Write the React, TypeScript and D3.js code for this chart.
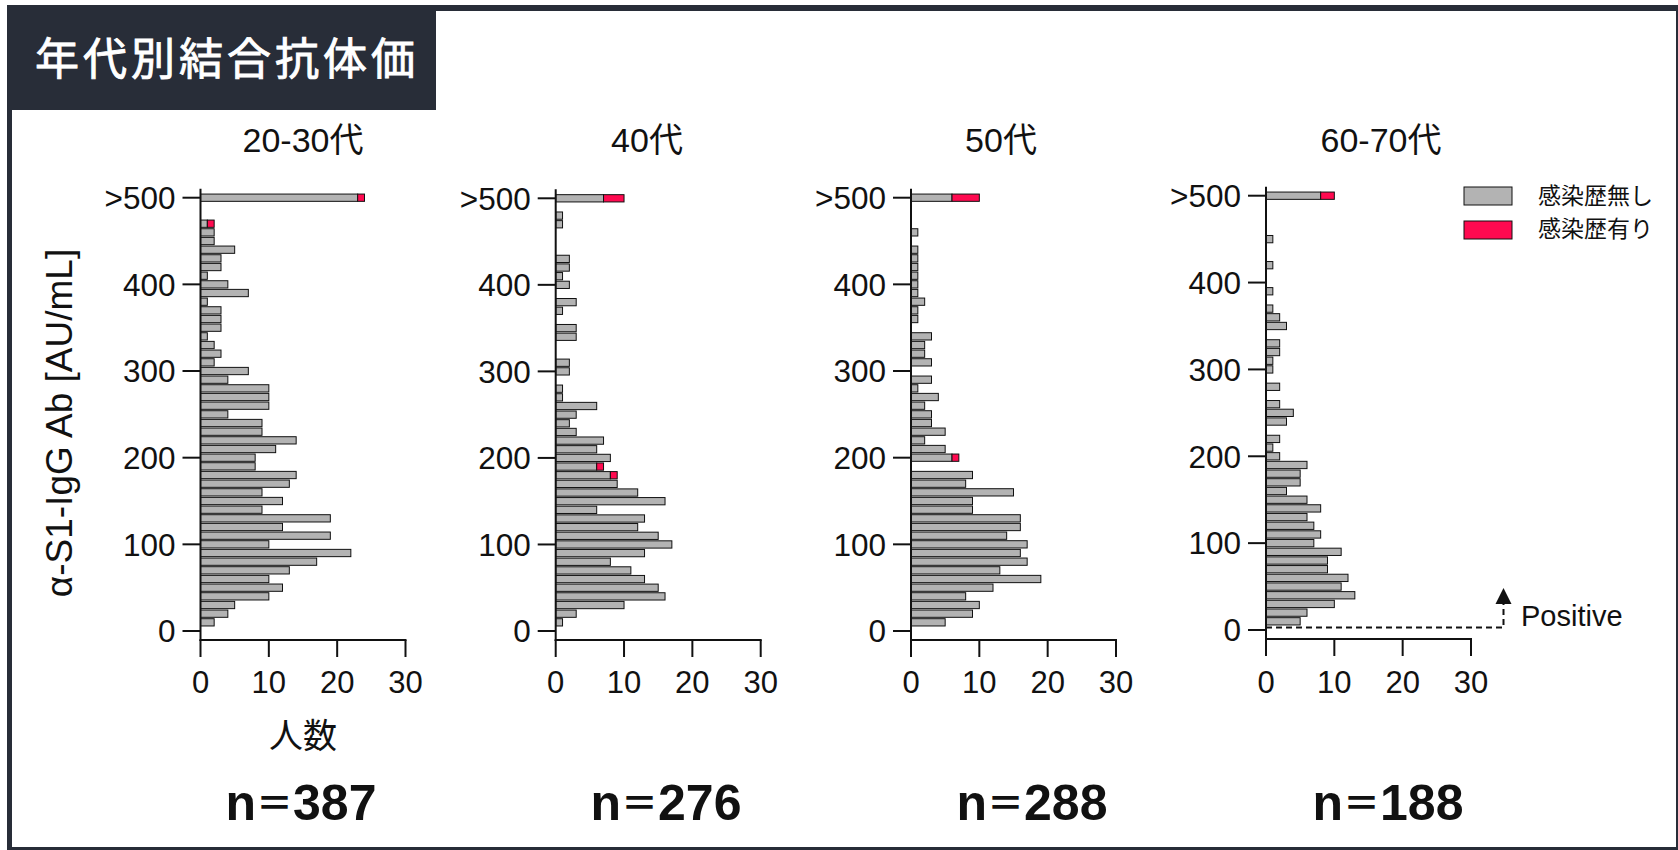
import React from "react";
import * as d3 from "d3";

// ---- data (bins centred at 10, 20, ..., 490 AU/mL; then ">500") ----
const binValues = d3.range(10, 500, 10);
const groupNames = ["20-30代", "40代", "50代", "60-70代"];
const groupCounts = ["387", "276", "288", "188"];

const gray2030 = [2, 4, 5, 10, 12, 10, 13, 17, 22, 10, 19, 12, 19, 9, 12, 9, 13, 14, 8, 8, 11, 14, 9, 9, 4, 10, 10, 10, 4, 7, 2, 3, 2, 1, 3, 3, 3, 1, 7, 4, 1, 3, 3, 5, 2, 2, 1, 0, 0];
const red2030 = [0, 0, 0, 0, 0, 0, 0, 0, 0, 0, 0, 0, 0, 0, 0, 0, 0, 0, 0, 0, 0, 0, 0, 0, 0, 0, 0, 0, 0, 0, 0, 0, 0, 0, 0, 0, 0, 0, 0, 0, 0, 0, 0, 0, 0, 0, 1, 0, 0];
const gray40 = [1, 3, 10, 16, 15, 13, 11, 8, 13, 17, 15, 12, 13, 6, 16, 12, 9, 8, 6, 8, 6, 7, 3, 2, 3, 6, 1, 1, 0, 2, 2, 0, 0, 3, 3, 0, 1, 3, 0, 2, 1, 2, 2, 0, 0, 0, 1, 1, 0];
const red40 = [0, 0, 0, 0, 0, 0, 0, 0, 0, 0, 0, 0, 0, 0, 0, 0, 0, 1, 1, 0, 0, 0, 0, 0, 0, 0, 0, 0, 0, 0, 0, 0, 0, 0, 0, 0, 0, 0, 0, 0, 0, 0, 0, 0, 0, 0, 0, 0, 0];
const gray50 = [5, 9, 10, 8, 12, 19, 13, 17, 16, 17, 14, 16, 16, 9, 9, 15, 8, 9, 0, 6, 5, 2, 5, 3, 3, 2, 4, 1, 3, 0, 3, 2, 2, 3, 0, 1, 1, 2, 1, 1, 1, 1, 1, 1, 0, 1, 0, 0, 0];
const red50 = [0, 0, 0, 0, 0, 0, 0, 0, 0, 0, 0, 0, 0, 0, 0, 0, 0, 0, 0, 1, 0, 0, 0, 0, 0, 0, 0, 0, 0, 0, 0, 0, 0, 0, 0, 0, 0, 0, 0, 0, 0, 0, 0, 0, 0, 0, 0, 0, 0];
const gray6070 = [5, 6, 10, 13, 11, 12, 9, 9, 11, 7, 8, 7, 6, 8, 6, 3, 5, 5, 6, 2, 1, 2, 0, 3, 4, 2, 0, 2, 0, 1, 1, 2, 2, 0, 3, 2, 1, 0, 1, 0, 0, 1, 0, 0, 1, 0, 0, 0, 0];
const red6070 = [0, 0, 0, 0, 0, 0, 0, 0, 0, 0, 0, 0, 0, 0, 0, 0, 0, 0, 0, 0, 0, 0, 0, 0, 0, 0, 0, 0, 0, 0, 0, 0, 0, 0, 0, 0, 0, 0, 0, 0, 0, 0, 0, 0, 0, 0, 0, 0, 0];
const overGray = [23, 7, 6, 8];
const overRed = [1, 3, 4, 2];

const yTickValues = [0, 100, 200, 300, 400, 500];
const yTickLabels = ["0", "100", "200", "300", "400", ">500"];
const xTickValues = [0, 10, 20, 30];
const legendLabels = ["感染歴無し", "感染歴有り"];

const grays = [gray2030, gray40, gray50, gray6070];
const reds = [red2030, red40, red50, red6070];

// ---- layout ----
const W = 1678;
const H = 850;
const FONT = "'Liberation Sans', Arial, 'Noto Sans CJK JP', sans-serif";
const GRAY = "#b3b3b3";
const RED = "#ff0a50";
const INK = "#111";
const panelAxisX = [200.5, 555.7, 911, 1266];
const panelY0 = [631, 631, 631, 630];
const panelY500 = [197.7, 198.3, 197.7, 195.7];
const panelTitleX = [303, 647, 1001, 1381];
const panelNX = [301, 666, 1032, 1388];
const PANEL_W = 205;

function Panel({ i }: { i: number }) {
  const ax = panelAxisX[i];
  const x = d3.scaleLinear().domain([0, 30]).range([ax, ax + PANEL_W]);
  const y = d3.scaleLinear().domain([0, 500]).range([panelY0[i], panelY500[i]]);
  const pitch = Math.abs(y(10) - y(0));
  const bh = pitch * 0.84;
  const axisBottom = y(0) + 9;
  const axisTop = y(500) - 9;
  const g = grays[i];
  const r = reds[i];
  return (
    <g>
      {binValues.map((v, k) =>
        g[k] + r[k] > 0 ? (
          <g key={v}>
            {g[k] > 0 && (
              <rect x={x(0)} y={y(v) - bh / 2} width={x(g[k]) - x(0)} height={bh} fill={GRAY} stroke={INK} strokeWidth={1} />
            )}
            {r[k] > 0 && (
              <rect x={x(g[k])} y={y(v) - bh / 2} width={x(g[k] + r[k]) - x(g[k])} height={bh} fill={RED} stroke={INK} strokeWidth={1} />
            )}
          </g>
        ) : null
      )}
      <rect x={x(0)} y={y(500) - bh / 2} width={x(overGray[i]) - x(0)} height={bh} fill={GRAY} stroke={INK} strokeWidth={1} />
      <rect x={x(overGray[i])} y={y(500) - bh / 2} width={x(overGray[i] + overRed[i]) - x(overGray[i])} height={bh} fill={RED} stroke={INK} strokeWidth={1} />
      {/* axes */}
      <line x1={x(0)} x2={x(0)} y1={axisTop} y2={axisBottom + 1} stroke={INK} strokeWidth={2} />
      <line x1={x(0) - 1} x2={x(30) + 1} y1={axisBottom} y2={axisBottom} stroke={INK} strokeWidth={2} />
      {yTickValues.map((v, k) => (
        <g key={v}>
          <line x1={x(0) - 18} x2={x(0)} y1={y(v)} y2={y(v)} stroke={INK} strokeWidth={2} />
          <text x={x(0) - 25} y={y(v)} dy="0.36em" textAnchor="end" fontSize={31.5} fontFamily={FONT} fill={INK}>
            {yTickLabels[k]}
          </text>
        </g>
      ))}
      {xTickValues.map((v) => (
        <g key={v}>
          <line x1={x(v)} x2={x(v)} y1={axisBottom} y2={axisBottom + 17} stroke={INK} strokeWidth={2} />
          <text x={x(v)} y={693} textAnchor="middle" fontSize={31} fontFamily={FONT} fill={INK}>
            {v}
          </text>
        </g>
      ))}
      <text x={panelTitleX[i]} y={152} textAnchor="middle" fontSize={34} fontFamily={FONT} fill={INK}>
        {groupNames[i]}
      </text>
      <text x={panelNX[i]} y={820} textAnchor="middle" fontSize={50} fontWeight="bold" fontFamily={FONT} fill={INK}>
        n<tspan fontSize={37} dy={-3.5}>＝</tspan>
        <tspan dy={3.5}>{groupCounts[i]}</tspan>
      </text>
    </g>
  );
}

export default function App() {
  const ax4 = panelAxisX[3];
  const x4 = d3.scaleLinear().domain([0, 30]).range([ax4, ax4 + PANEL_W]);
  const y4 = d3.scaleLinear().domain([0, 500]).range([panelY0[3], panelY500[3]]);
  const posY = y4(0) - 2.5;
  const arrowX = 1503.5;
  return (
    <svg width={W} height={H} style={{ position: "absolute", left: 0, top: 0, background: "#fff" }}>
      <rect x={0} y={0} width={W} height={H} fill="#fff" />
      <rect x={7} y={5} width={W - 7} height={H - 5} fill="#282d38" />
      <rect x={12} y={11} width={W - 14} height={H - 14} fill="#fff" />
      <rect x={7} y={5} width={429} height={105} fill="#282d38" />
      <text x={35} y={75} fontSize={44} letterSpacing={4} fontFamily="'Noto Sans CJK JP', sans-serif" fill="#fff" stroke="#fff" strokeWidth={0.9}>
        年代別結合抗体価
      </text>
      {[0, 1, 2, 3].map((i) => (
        <Panel key={i} i={i} />
      ))}
      <text transform={`translate(72,${423}) rotate(-90)`} textAnchor="middle" fontSize={37} fontFamily={FONT} fill={INK}>
        α-S1-IgG Ab [AU/mL]
      </text>
      <text x={303} y={748} textAnchor="middle" fontSize={34} fontFamily={FONT} fill={INK}>
        人数
      </text>
      {/* legend */}
      <rect x={1464} y={187} width={48} height={18} fill={GRAY} stroke={INK} strokeWidth={1} />
      <rect x={1464} y={221} width={48} height={18} fill={RED} stroke={INK} strokeWidth={1} />
      <text x={1538} y={196} dy="0.36em" fontSize={23} fontFamily={FONT} fill={INK}>
        {legendLabels[0]}
      </text>
      <text x={1538} y={229} dy="0.36em" fontSize={23} fontFamily={FONT} fill={INK}>
        {legendLabels[1]}
      </text>
      {/* positive threshold */}
      <path d={`M${x4(0)},${posY}H${arrowX}V${603}`} fill="none" stroke={INK} strokeWidth={2} strokeDasharray="6,4" />
      <path d={`M${arrowX - 8},${604}L${arrowX},${588}L${arrowX + 8},${604}Z`} fill={INK} />
      <text x={1521} y={626} fontSize={29} fontFamily={FONT} fill={INK}>
        Positive
      </text>
    </svg>
  );
}
